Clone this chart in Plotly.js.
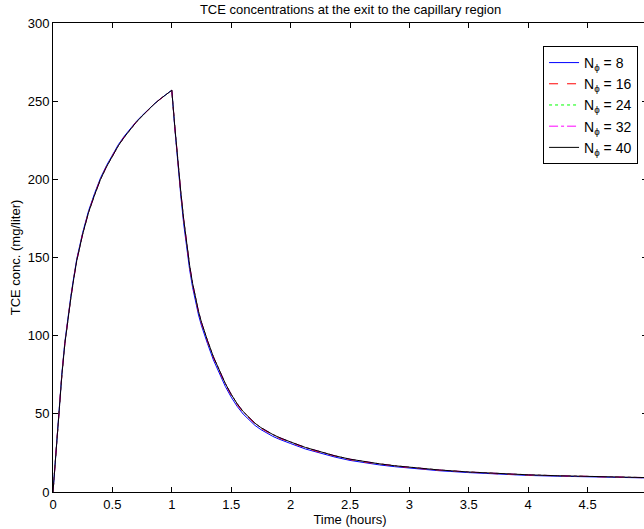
<!DOCTYPE html>
<html>
<head>
<meta charset="utf-8">
<script src="https://cdn.plot.ly/plotly-3.0.1.min.js"></script>
<style>
html,body{margin:0;padding:0;overflow:hidden;background:#fff;}
#chart{width:648px;height:529px;}
</style>
</head>
<body>
<div id="chart"></div>
<script>
// Time (hours)
const timeHours = [0, 0.05, 0.075, 0.1, 0.125, 0.15, 0.175, 0.2, 0.25, 0.3, 0.35, 0.4, 0.45, 0.5, 0.55, 0.6, 0.65, 0.7, 0.75, 0.8, 0.85, 0.9, 0.95, 1.0,
  1.025, 1.05, 1.075, 1.1, 1.125, 1.15, 1.175, 1.2, 1.225, 1.25, 1.275, 1.3,
  1.35, 1.4, 1.45, 1.5, 1.55, 1.6, 1.65, 1.7, 1.75, 1.8, 1.85, 1.9, 1.95, 2.0,
  2.125, 2.25, 2.375, 2.5, 2.625, 2.75, 2.875, 3.0,
  3.25, 3.5, 3.75, 4.0, 4.25, 4.5, 4.75, 5.0];

// TCE concentration (mg/liter) for each N_phi
const concN8 = [0, 53, 76.2, 96.2, 111.7, 125.2, 137.6, 149.1, 166, 180, 191, 200.9, 208.8, 215.8, 222.2, 227.6, 232.5, 236.9, 240.8, 244.7, 248.1, 251.3, 254.2, 257,
  233, 210, 190, 171.5, 155.5, 142.2, 130.9, 121.1, 113.2, 106.3, 100.4, 95,
  84.5, 75.5, 67.6, 60.7, 54.8, 49.9, 46, 42.6, 39.9, 37.6, 35.6, 33.9, 32.3, 31,
  27.5, 24.7, 22.3, 20.2, 18.6, 17.3, 16.2, 15.2,
  13.6, 12.4, 11.4, 10.6, 10.1, 9.6, 9.2, 9.0];
const concN16 = [0, 52.3, 75.4, 95.4, 110.9, 124.4, 136.8, 148.3, 165.3, 179.3, 190.3, 200.3, 208.2, 215.2, 221.7, 227.1, 232.1, 236.6, 240.6, 244.6, 248, 251.2, 254.2, 257,
  233.7, 211.4, 191.8, 173.7, 157.7, 144.3, 132.8, 122.8, 114.8, 107.9, 101.9, 96.4,
  86, 77, 69, 62, 56, 51, 47.1, 43.6, 40.8, 38.4, 36.4, 34.6, 33.1, 31.7,
  28.2, 25.3, 22.8, 20.7, 19.1, 17.8, 16.6, 15.6,
  13.9, 12.6, 11.6, 10.8, 10.3, 9.8, 9.4, 9.1];
const concN24 = [0, 52, 75, 95, 110.5, 124, 136.5, 148, 165, 179, 190, 200, 208, 215, 221.5, 227, 232, 236.5, 240.5, 244.5, 248, 251.2, 254.2, 257,
  234, 212, 192.5, 174.5, 158.5, 145, 133.5, 123.5, 115.5, 108.5, 102.5, 97,
  86.5, 77.5, 69.5, 62.5, 56.5, 51.5, 47.5, 44, 41.2, 38.8, 36.8, 35, 33.4, 32,
  28.5, 25.6, 23.1, 21, 19.4, 18, 16.8, 15.8,
  14.1, 12.8, 11.8, 11, 10.4, 9.9, 9.5, 9.2];
const concN32 = [0, 52, 75, 95, 110.5, 124, 136.5, 148, 165, 179, 190, 200, 208, 215, 221.5, 227, 232, 236.5, 240.5, 244.5, 248, 251.2, 254.2, 257,
  234, 212, 192.5, 174.5, 158.5, 145, 133.5, 123.5, 115.5, 108.5, 102.5, 97,
  86.5, 77.5, 69.5, 62.5, 56.5, 51.5, 47.5, 44, 41.2, 38.8, 36.8, 35, 33.4, 32,
  28.5, 25.6, 23.1, 21, 19.4, 18, 16.8, 15.8,
  14.1, 12.8, 11.8, 11, 10.4, 9.9, 9.5, 9.2];
const concN40 = [0, 52, 75, 95, 110.5, 124, 136.5, 148, 165, 179, 190, 200, 208, 215, 221.5, 227, 232, 236.5, 240.5, 244.5, 248, 251.2, 254.2, 257,
  234, 212, 192.5, 174.5, 158.5, 145, 133.5, 123.5, 115.5, 108.5, 102.5, 97,
  86.5, 77.5, 69.5, 62.5, 56.5, 51.5, 47.5, 44, 41.2, 38.8, 36.8, 35, 33.4, 32,
  28.5, 25.6, 23.1, 21, 19.4, 18, 16.8, 15.8,
  14.1, 12.8, 11.8, 11, 10.4, 9.9, 9.5, 9.2];

const seriesNames = ['N<sub>ϕ</sub> = 8', 'N<sub>ϕ</sub> = 16', 'N<sub>ϕ</sub> = 24', 'N<sub>ϕ</sub> = 32', 'N<sub>ϕ</sub> = 40'];
const seriesData = [concN8, concN16, concN24, concN32, concN40];
const seriesColors = ['#0000ff', '#ff0000', '#00ff00', '#ff00ff', '#000000'];
const seriesDash = ['solid', 'dash', 'dot', 'dashdot', 'solid'];

const xTicks = [0, 0.5, 1, 1.5, 2, 2.5, 3, 3.5, 4, 4.5, 5];
const yTicks = [0, 50, 100, 150, 200, 250, 300];

const traces = seriesData.map((d, i) => ({
  x: timeHours, y: d, type: 'scatter', mode: 'lines', name: seriesNames[i],
  line: {color: seriesColors[i], width: 1, dash: seriesDash[i]}
}));

const font = {family: 'Liberation Sans, Arial, sans-serif', size: 13, color: '#000'};

const layout = {
  width: 648, height: 529,
  margin: {l: 53, r: 1, t: 23, b: 37, pad: 0},
  paper_bgcolor: '#fff', plot_bgcolor: '#fff',
  font: font,
  showlegend: true,
  title: {text: 'TCE concentrations at the exit to the capillary region', x: 0.541, xanchor: 'center',
    y: 0.982, yanchor: 'middle', font: {family: font.family, size: 13, color: '#000'}},
  xaxis: {range: [0, 5], tickvals: xTicks, ticktext: xTicks.map(String), ticks: 'inside', ticklen: 5,
    tickcolor: '#000', showline: true, linecolor: '#000', linewidth: 1, mirror: 'ticks',
    showgrid: false, zeroline: false, tickfont: font,
    title: {text: 'Time (hours)', font: font, standoff: 4}},
  yaxis: {range: [0, 300], tickvals: yTicks, ticktext: yTicks.map(String), ticks: 'inside', ticklen: 5,
    tickcolor: '#000', showline: true, linecolor: '#000', linewidth: 1, mirror: 'ticks',
    showgrid: false, zeroline: false, tickfont: font,
    title: {text: 'TCE conc. (mg/liter)', font: font, standoff: 4}},
  legend: {x: 0.825, y: 0.951, xanchor: 'left', yanchor: 'top', bgcolor: '#fff',
    bordercolor: '#000', borderwidth: 1, font: {family: font.family, size: 14, color: '#000'},
    tracegroupgap: 0, itemwidth: 30}
};

Plotly.newPlot('chart', traces, layout, {displayModeBar: false, staticPlot: true});
</script>
</body>
</html>
